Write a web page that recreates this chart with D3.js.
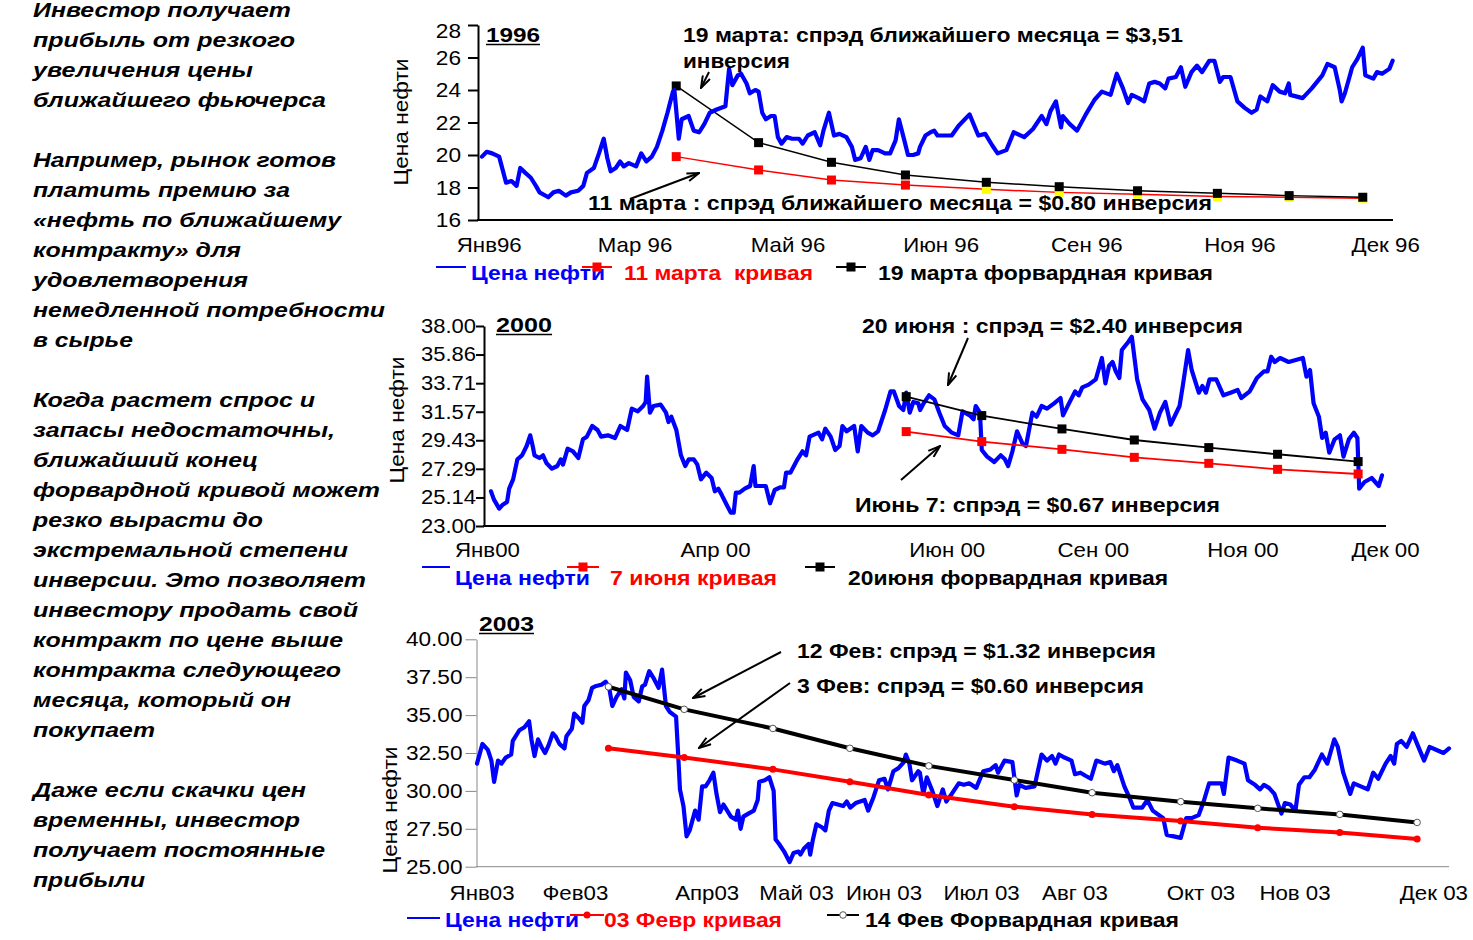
<!DOCTYPE html>
<html>
<head>
<meta charset="utf-8">
<script src="https://cdn.jsdelivr.net/npm/d3@7"></script>
<style>
  body { margin: 0; background: #fff; }
  svg { display: block; }
  text { font-family: "Liberation Sans", Arial, sans-serif; }
</style>
</head>
<body>
<svg id="chart" width="1473" height="940"></svg>
<script>
// ---- left commentary ----
var noteLines = [
  'Инвестор получает', 'прибыль от резкого', 'увеличения цены', 'ближайшего фьючерса', '',
  'Например, рынок готов', 'платить премию за', '«нефть по ближайшему', 'контракту» для',
  'удовлетворения', 'немедленной потребности', 'в сырье', '',
  'Когда растет спрос и', 'запасы недостаточны,', 'ближайший конец', 'форвардной кривой может',
  'резко вырасти до', 'экстремальной степени', 'инверсии. Это позволяет', 'инвестору продать свой',
  'контракт по цене выше', 'контракта следующего', 'месяца, который он', 'покупает', '',
  'Даже если скачки цен', 'временны, инвестор', 'получает постоянные', 'прибыли'
];
var noteWidths = [258, 262, 220, 293, 0, 303, 257, 308, 208, 215, 352, 100, 0,
  282, 302, 225, 347, 230, 315, 333, 325, 310, 308, 258, 122, 0, 273, 267, 292, 112];

// ---- 1996 ----  [trading day, price]
var price96 = [[0,19.9],[1.3,20.2],[2.8,20.1],[4.7,19.9],[6.6,18.3],[8.1,18.4],[9.5,18.1],[10.5,19.2],[11.9,18.9],[13.4,18.6],[14.8,18.1],[15.8,17.7],[18.2,17.4],[19.6,17.7],[21.1,17.8],[23,17.5],[24.4,17.7],[26.4,17.8],[27.8,18.1],[28.8,18.9],[30.7,19.2],[32.1,20.1],[33.4,21.0],[34.4,19.8],[35.3,19.0],[36.7,19.2],[37.9,19.6],[38.9,19.3],[40.3,19.5],[42.3,19.3],[43.7,20.1],[45.1,19.6],[46.6,19.9],[48,20.5],[49.5,21.5],[50.9,22.6],[52.4,23.9],[52.8,24.0],[54,21.0],[54.8,22.2],[56.7,22.4],[58.1,21.5],[59.6,21.4],[61,21.9],[62.5,22.6],[64.4,22.8],[66.8,23.0],[67.8,25.3],[68.7,24.3],[70.2,24.9],[71.1,25.0],[72.6,24.4],[73.5,23.8],[75,24.0],[75.9,23.9],[76.9,22.6],[77.9,22.2],[79.3,22.4],[80.3,22.4],[81.2,21.1],[82.2,20.7],[83.6,21.1],[85.1,21.0],[87,21.0],[88,20.7],[89.4,21.2],[91.3,21.4],[92.8,20.6],[93.7,21.5],[95.2,22.6],[96.6,21.2],[98.1,21.3],[100,21.1],[101.5,20.5],[102.4,19.7],[103.9,19.8],[105.3,20.5],[106.3,19.7],[107.2,20.3],[108.7,20.3],[110.6,20.1],[112,20.1],[113.5,20.9],[114.4,22.2],[115.9,20.9],[116.9,20.0],[118.3,20.0],[119.7,20.1],[120.2,20.5],[121.7,21.2],[123.1,21.4],[124.1,21.5],[125,21.2],[128.9,21.2],[130.8,21.8],[133.8,22.5],[136.2,21.2],[138.1,21.3],[140,20.6],[141.5,20.1],[143.9,20.3],[145.9,21.4],[148.8,21.1],[151.2,21.6],[153.6,22.4],[154.9,21.9],[156,22.7],[157.5,23.3],[158.9,21.7],[159.4,22.4],[161.3,21.9],[163.3,21.5],[165.7,22.5],[168.1,23.4],[170.1,23.9],[172.5,23.7],[174.2,25.0],[175.9,24.1],[177.3,23.2],[178.3,23.7],[180.2,23.5],[181.7,23.3],[183.1,24.4],[184.6,24.5],[186,24.4],[187.5,24.1],[188.4,24.7],[190.4,24.8],[191.8,25.4],[193,24.2],[194.7,25.1],[196.2,25.5],[197.6,25.1],[199.6,25.8],[201,25.8],[202.5,24.5],[203.4,24.8],[205.4,24.8],[207.3,23.3],[209.3,22.9],[211.2,22.6],[212.6,22.8],[213.6,23.6],[215.5,23.3],[217,24.3],[218.9,23.9],[220.4,23.8],[221.4,24.4],[221.8,23.7],[225.2,23.5],[227.7,24.1],[230.6,24.9],[232,25.6],[234,25.4],[235.4,24.0],[235.9,23.3],[236.8,23.8],[238.8,25.4],[240.2,25.9],[241.7,26.6],[242.4,24.9],[244.6,24.7],[245.6,25.1],[247,25.0],[249,25.3],[249.9,25.8]];
var fwdDays96 = [53.3, 75.9, 95.9, 116.2, 138.4, 158.4, 179.9, 201.8, 221.5, 241.7];
var curveMar19 = [24.25, 20.76, 19.55, 18.77, 18.32, 18.05, 17.80, 17.64, 17.50, 17.40];
var curveMar11 = [19.90, 19.08, 18.46, 18.15, 17.89, 17.70, 17.58, 17.44, 17.40, 17.34];
var ticks96 = [16, 18, 20, 22, 24, 26, 28];
var months96 = ['Янв96', 'Мар 96', 'Май 96', 'Июн 96', 'Сен 96', 'Ноя 96', 'Дек 96'];
var monthDays96 = [2, 42, 84, 126, 166, 208, 248];

// ---- 2000 ----
var price00 = [[0,25.6],[0.8,25.0],[2.3,24.3],[3.3,24.6],[4.5,24.8],[5.1,25.8],[6.2,26.5],[7.4,28.0],[8.7,28.3],[10,29.0],[11,29.8],[11.7,29.0],[12.2,28.3],[13.6,28.1],[14.6,28.3],[15.6,27.7],[17.1,27.3],[18.6,27.5],[19.6,28.0],[20.2,27.6],[21.5,28.8],[23,28.6],[24.5,28.1],[25.8,29.5],[26.9,29.7],[28.4,30.5],[29.9,30.2],[30.9,29.7],[32.8,29.8],[34.8,29.6],[36.3,30.5],[38.2,30.2],[39.5,31.8],[41.2,31.6],[42.7,32.0],[43.4,32.3],[43.8,34.2],[44.6,31.5],[45.6,32.0],[47.6,32.1],[49.1,31.5],[49.8,30.8],[50.6,31.2],[52,30.2],[53.3,28.3],[54.5,27.5],[55.5,28.0],[56.9,28.0],[57.9,27.6],[58.9,26.5],[60.4,27.0],[61.9,26.6],[62.8,25.6],[63.8,25.8],[64.8,25.3],[66.3,24.5],[67.3,24.0],[68.1,24.0],[68.7,25.5],[69.7,25.5],[71.2,25.8],[72.7,26.0],[73.7,27.5],[74.2,26.0],[75.6,26.0],[77.1,26.0],[78.3,24.7],[79.6,25.7],[81.1,25.9],[82.2,25.9],[82.8,27.0],[84,27.0],[86,28.0],[87.4,28.6],[88.4,28.3],[89.4,29.7],[91.9,30.0],[92.9,29.5],[93.8,30.3],[95.3,29.7],[96.6,28.7],[97.8,29.0],[98.6,30.5],[99.8,30.1],[101.9,30.5],[102.9,28.6],[103.9,30.5],[105.7,30.0],[107.1,29.8],[108.6,30.1],[110.6,31.7],[112.1,33.1],[113,33.1],[114.5,32.0],[115.7,31.7],[116.5,33.0],[117.5,31.5],[118.5,32.3],[119.9,32.2],[120.4,31.7],[121.4,32.2],[122.9,32.8],[124.4,32.5],[125.8,31.5],[127.3,30.5],[129.3,30.0],[131.1,29.8],[132.3,31.6],[134.3,31.3],[135.4,31.0],[136,32.0],[137.2,31.5],[137.7,28.7],[139.2,28.2],[141.2,27.8],[143,28.3],[144.2,28.0],[145.1,27.5],[146.3,28.6],[147.6,30.1],[149.1,29.2],[150.1,29.0],[151.9,31.5],[153.1,31.2],[154.5,32.0],[156,31.8],[158,32.2],[159.8,32.6],[160.5,31.3],[162,32.1],[163.9,33.1],[164.9,32.8],[165.9,33.4],[167.7,33.6],[169.7,34.0],[171.4,35.6],[172.4,33.7],[173.4,35.0],[174.4,35.3],[175.3,34.6],[176.3,34.1],[177,36.2],[178.8,36.8],[179.8,37.2],[180.6,35.5],[181.3,34.0],[182.8,32.5],[184.7,31.7],[186.2,30.3],[187.7,31.5],[189.2,32.3],[190.7,30.6],[193.2,32.0],[194.1,33.5],[195.6,36.2],[196.6,34.7],[198.6,33.0],[199.6,33.5],[200.6,33.0],[201.6,34.0],[203.5,34.0],[205.5,32.8],[207.5,33.0],[209.5,33.2],[210.5,32.6],[212.9,33.1],[214.9,34.1],[216.9,34.6],[217.9,34.6],[218.9,35.7],[219.9,35.3],[221.4,35.6],[223.8,35.3],[227.8,35.6],[228.8,34.2],[229.8,34.7],[230.8,32.2],[232.3,31.2],[233.2,29.6],[234.2,30.0],[235.2,28.5],[236.7,29.5],[238.2,29.8],[239.2,28.2],[240.7,29.5],[242.1,30.0],[243.1,29.6],[243.6,25.8],[245.1,26.3],[247.1,26.6],[249.1,26.0],[250,26.8]];
var fwdDays00 = [116.5, 137.7, 160.2, 180.5, 201.4, 220.7, 243.3];
var curveJun20 = [32.70, 31.28, 30.28, 29.45, 28.88, 28.38, 27.83];
var curveJun7 = [30.08, 29.33, 28.75, 28.15, 27.70, 27.25, 26.90];
var ticks00 = [23.00, 25.14, 27.29, 29.43, 31.57, 33.71, 35.86, 38.00];
var months00 = ['Янв00', 'Апр 00', 'Июн 00', 'Сен 00', 'Ноя 00', 'Дек 00'];
var monthDays00 = [-1, 63, 128, 169, 211, 251];

// ---- 2003 ----
var price03 = [[0,31.8],[1.4,33.1],[2.8,32.7],[3.7,32.0],[4.4,30.6],[5.4,32.0],[6.3,31.8],[7.4,32.2],[8.8,32.4],[9.2,33.3],[10.9,34.0],[12.2,34.2],[13.4,34.6],[14,33.4],[14.8,32.3],[15.7,33.4],[16.6,32.9],[17.5,32.5],[18.4,33.0],[19.5,33.8],[20.2,33.6],[21.2,33.1],[22.5,32.8],[23,33.6],[24.4,34.1],[25,35.1],[26.2,34.8],[27.1,34.5],[27.6,35.6],[28.7,36.0],[29.6,36.8],[30.4,36.9],[32,37.0],[33.1,37.2],[34,36.8],[34.8,35.6],[35.9,36.2],[37.2,36.7],[37.9,36.1],[38.3,37.8],[39.4,37.3],[40.3,36.2],[41.6,35.9],[42.5,36.9],[43.2,37.0],[44.3,37.9],[45.5,37.4],[46.7,36.8],[47.6,38.0],[48.6,35.6],[49.6,35.2],[51.2,34.9],[51.7,32.6],[52.2,30.1],[53.1,29.0],[53.9,27.0],[54.7,27.4],[56.1,28.7],[57,28.1],[57.9,30.3],[58.8,30.3],[59.8,30.7],[60.8,31.2],[61.6,29.8],[62.5,28.6],[63.4,29.1],[65.3,28.3],[66.6,28.1],[67.1,28.7],[67.8,27.5],[68.5,28.3],[69.8,28.5],[71.2,28.7],[72.2,29.4],[72.6,30.6],[74,30.7],[75.2,30.9],[76.3,30.0],[76.8,26.8],[77.7,26.5],[79,26.0],[80.4,25.3],[81.4,25.9],[82.7,26.0],[83.2,25.8],[84.1,26.2],[85.3,26.5],[85.7,25.8],[86.4,26.8],[87.3,27.8],[88.7,27.6],[89.6,27.4],[90.5,28.7],[91.4,29.2],[92.8,29.1],[94.2,29.0],[95.1,29.3],[96,28.9],[97.4,29.2],[99.7,29.4],[100.6,28.7],[102,29.6],[103.4,30.7],[104.8,30.8],[105.7,30.1],[107.1,31.3],[108.4,31.5],[109.8,31.9],[110.3,32.4],[111.2,31.8],[111.9,30.7],[113.5,31.3],[113.9,31.2],[114.8,29.8],[115.7,30.9],[117.1,30.0],[118.4,29.0],[119.8,30.1],[120.7,29.3],[122.1,29.8],[123.9,30.5],[125.2,30.4],[126.6,30.5],[128.4,30.2],[130.2,31.3],[132,31.4],[133.4,31.7],[134,31.2],[135.7,32.0],[137.7,31.9],[138.8,29.7],[139.5,30.4],[141.1,30.2],[143.4,30.3],[145.2,32.4],[146.6,32.0],[147.9,32.3],[148.8,31.8],[149.7,32.4],[151.1,32.2],[152.9,32.0],[153.8,31.1],[155.2,31.2],[156.5,31.0],[157.9,30.8],[159.3,32.0],[161.5,31.8],[162.9,31.9],[163.8,31.3],[164.7,31.7],[166.5,30.3],[167.9,29.5],[168.8,28.9],[171.1,28.9],[172.4,29.4],[173.8,28.7],[176.5,28.2],[177.4,27.1],[179.2,27.0],[181,26.9],[182.4,28.2],[183.8,28.2],[185.6,28.4],[186.9,29.3],[188.3,30.5],[191.5,30.5],[192.1,29.8],[193.3,32.2],[195.5,32.0],[197.4,31.8],[198.3,30.7],[200.1,30.4],[201.4,30.1],[202.4,30.4],[203.7,30.2],[205.1,29.8],[206.9,28.5],[207.8,29.2],[209.2,29.1],[210.5,28.7],[211.4,30.4],[212.8,30.9],[214.1,30.9],[215.5,31.4],[217.3,32.4],[218.7,31.8],[220.5,33.4],[221.4,32.9],[222.8,31.2],[224.6,29.8],[225.5,30.5],[227.3,30.3],[229.1,30.1],[230.5,31.2],[231.8,30.8],[233.7,31.8],[235,32.3],[235.9,31.8],[236.6,33.1],[237.7,33.3],[239.1,32.9],[240.7,33.8],[241.8,33.1],[243.6,32.0],[245,32.9],[246.8,32.7],[248.6,32.5],[250,32.8]];
var fwdDays03 = [33.8, 53.3, 76.1, 95.9, 116.2, 138.2, 158.2, 181.0, 200.8, 221.9, 241.8];
var curveFeb14 = [36.87, 35.38, 34.12, 32.81, 31.65, 30.72, 29.88, 29.29, 28.85, 28.45, 27.92];
var curveFeb3 = [32.81, 32.21, 31.42, 30.61, 29.73, 28.96, 28.45, 28.01, 27.57, 27.26, 26.82];
var ticks03 = [25, 27.5, 30, 32.5, 35, 37.5, 40];
var months03 = ['Янв03', 'Фев03', 'Апр03', 'Май 03', 'Июн 03', 'Июл 03', 'Авг 03', 'Окт 03', 'Нов 03', 'Дек 03'];
var monthDays03 = [1.3, 25.3, 59.2, 82.2, 104.7, 129.8, 153.8, 186.2, 210.4, 246.1];

var BLUE = '#0000ff', RED = '#ff0000';
var svg = d3.select('#chart');

// stretch text horizontally to a given width
function fit(t, w) {
  return t.attr('textLength', w).attr('lengthAdjust', 'spacingAndGlyphs');
}
function widen(t, k) {
  t.each(function() {
    var el = d3.select(this);
    fit(el, this.getComputedTextLength() * k);
  });
  return t;
}

// open chevron arrowhead
svg.append('defs').append('marker')
  .attr('id', 'arrow').attr('viewBox', '0 0 14 10')
  .attr('refX', 13).attr('refY', 5)
  .attr('markerWidth', 14).attr('markerHeight', 10)
  .attr('markerUnits', 'userSpaceOnUse').attr('orient', 'auto')
  .append('path').attr('d', 'M1,1 L13,5 L1,9').attr('fill', 'none')
  .attr('stroke', '#000').attr('stroke-width', 2);

// left notes
var notes = svg.append('g');
noteLines.forEach(function(s, i) {
  if (!s) return;
  var t = notes.append('text').attr('x', 33).attr('y', 17 + i * 30)
    .attr('font-size', 20).attr('font-weight', 'bold').attr('font-style', 'italic')
    .text(s);
  fit(t, noteWidths[i]);
});

function drawPanel(c) {
  var g = svg.append('g');
  var x = d3.scaleLinear().domain([0, 250]).range(c.xr);
  var y = d3.scaleLinear().domain(c.yd).range(c.yr);

  // axes
  var ya = g.append('g').attr('transform', 'translate(' + c.axisX + ',0)')
    .call(d3.axisLeft(y).tickValues(c.ticks).tickSize(c.tickLen).tickSizeOuter(0)
      .tickPadding(c.tickPad).tickFormat(c.fmt));
  ya.attr('font-size', c.tickFont).attr('font-family', null);
  ya.selectAll('.domain, line').attr('stroke', c.axisColor).attr('stroke-width', c.axisW);
  ya.selectAll('text').attr('fill', '#000');
  if (c.topLabelDrop) {
    ya.selectAll('.tick').filter(function(d) { return d === c.yd[1]; })
      .select('text').attr('y', c.topLabelDrop);
  }
  widen(ya.selectAll('text'), c.tickStretch);

  g.append('line').attr('x1', c.axisX - c.axisW / 2).attr('x2', c.xEnd)
    .attr('y1', y(c.yd[0])).attr('y2', y(c.yd[0]))
    .attr('stroke', c.axisColor).attr('stroke-width', c.axisW);

  var ml = g.selectAll('text.month').data(c.months).enter().append('text')
    .attr('class', 'month')
    .attr('x', function(d, i) { return x(c.monthDays[i]); })
    .attr('y', c.monthY).attr('text-anchor', 'middle').attr('font-size', 21)
    .text(function(d) { return d; });
  widen(ml, 1.06);

  // y label
  fit(g.append('text').attr('transform', 'translate(' + c.ylab[0] + ',' + c.ylab[1] + ') rotate(-90)')
    .attr('text-anchor', 'middle').attr('font-size', 20).text('Цена нефти'), 127);

  // title
  var tt = g.append('text').attr('x', c.title[0]).attr('y', c.title[1])
    .attr('font-size', 21).attr('font-weight', 'bold').text(c.titleText);
  fit(tt, c.title[2]);
  g.append('line').attr('x1', c.title[0]).attr('x2', c.title[0] + c.title[2])
    .attr('y1', c.title[1] + 2.5).attr('y2', c.title[1] + 2.5)
    .attr('stroke', '#000').attr('stroke-width', 1.6);

  var line = d3.line().x(function(d) { return x(d[0]); }).y(function(d) { return y(d[1]); });
  function drawPrice() {
    g.append('path').datum(c.price).attr('d', line).attr('fill', 'none')
      .attr('stroke', BLUE).attr('stroke-width', 4.2)
      .attr('stroke-linejoin', 'round').attr('stroke-linecap', 'round');
  }
  if (!c.priceOnTop) drawPrice();

  c.curves.forEach(function(cv) {
    var pts = c.fwdDays.map(function(d, i) { return [d, cv.vals[i]]; });
    g.append('path').datum(pts).attr('d', line).attr('fill', 'none')
      .attr('stroke', cv.color).attr('stroke-width', cv.width);
    if (cv.marker === 'square') {
      g.selectAll(null).data(pts).enter().append('rect')
        .attr('x', function(d) { return x(d[0]) - 4.5; })
        .attr('y', function(d) { return y(d[1]) - 4.5; })
        .attr('width', 9).attr('height', 9)
        .attr('fill', function(d, i) { return cv.fillAfter && i >= cv.fillAfter[0] ? cv.fillAfter[1] : cv.color; });
    } else if (cv.marker === 'dot') {
      g.selectAll(null).data(pts).enter().append('circle')
        .attr('cx', function(d) { return x(d[0]); }).attr('cy', function(d) { return y(d[1]); })
        .attr('r', 3.5).attr('fill', cv.color);
    } else if (cv.marker === 'ring') {
      g.selectAll(null).data(pts).enter().append('circle')
        .attr('cx', function(d) { return x(d[0]); }).attr('cy', function(d) { return y(d[1]); })
        .attr('r', 3.3).attr('fill', '#fff').attr('stroke', '#555').attr('stroke-width', 1);
    }
  });
  if (c.priceOnTop) drawPrice();

  // annotations
  c.notes.forEach(function(n) {
    fit(g.append('text').attr('x', n[1]).attr('y', n[2]).attr('font-size', 20)
      .attr('font-weight', 'bold').text(n[0]), n[3]);
  });
  c.arrows.forEach(function(a) {
    g.append('line').attr('x1', a[0]).attr('y1', a[1]).attr('x2', a[2]).attr('y2', a[3])
      .attr('stroke', '#000').attr('stroke-width', 2).attr('marker-end', 'url(#arrow)');
  });

  // legend
  c.legend.forEach(function(L) {
    g.append('line').attr('x1', L.seg[0]).attr('x2', L.seg[1]).attr('y1', L.segY).attr('y2', L.segY)
      .attr('stroke', L.color).attr('stroke-width', 2);
    var mx = (L.seg[0] + L.seg[1]) / 2;
    if (L.marker === 'square') {
      g.append('rect').attr('x', mx - 4.5).attr('y', L.segY - 4.5).attr('width', 9).attr('height', 9).attr('fill', L.color);
    } else if (L.marker === 'dot') {
      g.append('circle').attr('cx', mx).attr('cy', L.segY).attr('r', 3.5).attr('fill', L.color);
    } else if (L.marker === 'ring') {
      g.append('circle').attr('cx', mx).attr('cy', L.segY).attr('r', 3.3).attr('fill', '#fff').attr('stroke', '#555');
    }
    fit(g.append('text').attr('x', L.tx).attr('y', c.legendY).attr('font-size', 20)
      .attr('font-weight', 'bold').attr('fill', L.color).style('white-space', 'pre').text(L.text), L.tw);
  });
}

var f0 = d3.format('d'), f2 = d3.format('.2f');

drawPanel({
  xr: [482, 1393], xEnd: 1393, axisX: 478, yd: [16, 28], yr: [220, 25],
  ticks: ticks96, fmt: f0, tickLen: 10, tickPad: 7, tickFont: 21, tickStretch: 1.08,
  axisColor: '#000', axisW: 2, topLabelDrop: 6,
  months: months96, monthDays: monthDays96, monthY: 252,
  ylab: [408, 122], title: [486, 42, 54], titleText: '1996',
  price: price96, priceOnTop: true, fwdDays: fwdDays96,
  curves: [
    { vals: curveMar11, color: RED, width: 1.5, marker: 'square', fillAfter: [4, '#ffff00'] },
    { vals: curveMar19, color: '#000', width: 1.5, marker: 'square' }
  ],
  notes: [
    ['19 марта: спрэд ближайшего месяца = $3,51', 683, 42, 500],
    ['инверсия', 683, 68, 107],
    ['11 марта : спрэд ближайшего месяца = $0.80 инверсия', 588, 210, 624]
  ],
  arrows: [[709, 72, 701, 88], [630, 199, 699, 173]],
  legendY: 280,
  legend: [
    { seg: [436, 466], segY: 267, color: BLUE, marker: null, tx: 471, tw: 134, text: 'Цена нефти' },
    { seg: [582, 612], segY: 267, color: RED, marker: 'square', tx: 624, tw: 189, text: '11 марта  кривая' },
    { seg: [836, 866], segY: 267, color: '#000', marker: 'square', tx: 878, tw: 335, text: '19 марта форвардная кривая' }
  ]
});

drawPanel({
  xr: [491, 1382], xEnd: 1386, axisX: 484, yd: [23, 38], yr: [526, 326],
  ticks: ticks00, fmt: f2, tickLen: 8, tickPad: 0, tickFont: 20, tickStretch: 1.1,
  axisColor: '#000', axisW: 2,
  months: months00, monthDays: monthDays00, monthY: 557,
  ylab: [404, 420], title: [496, 332, 56], titleText: '2000',
  price: price00, priceOnTop: false, fwdDays: fwdDays00,
  curves: [
    { vals: curveJun7, color: RED, width: 1.8, marker: 'square' },
    { vals: curveJun20, color: '#000', width: 1.8, marker: 'square' }
  ],
  notes: [
    ['20 июня : спрэд = $2.40 инверсия', 862, 333, 381],
    ['Июнь 7: спрэд = $0.67 инверсия', 855, 512, 365]
  ],
  arrows: [[968, 338, 948, 385], [901, 480, 940, 446]],
  legendY: 585,
  legend: [
    { seg: [422, 450], segY: 567, color: BLUE, marker: null, tx: 455, tw: 135, text: 'Цена нефти' },
    { seg: [567, 599], segY: 567, color: RED, marker: 'square', tx: 610, tw: 167, text: '7 июня кривая' },
    { seg: [805, 835], segY: 567, color: '#000', marker: 'square', tx: 848, tw: 320, text: '20июня форвардная кривая' }
  ]
});

drawPanel({
  xr: [477, 1449], xEnd: 1449, axisX: 476.5, yd: [25, 40], yr: [866.7, 639.3],
  ticks: ticks03, fmt: f2, tickLen: 11, tickPad: 3, tickFont: 20, tickStretch: 1.13,
  axisColor: '#888', axisW: 1,
  months: months03, monthDays: monthDays03, monthY: 900,
  ylab: [397, 810], title: [479, 631, 55], titleText: '2003',
  price: price03, priceOnTop: false, fwdDays: fwdDays03,
  curves: [
    { vals: curveFeb3, color: RED, width: 4, marker: 'dot' },
    { vals: curveFeb14, color: '#000', width: 4, marker: 'ring' }
  ],
  notes: [
    ['12 Фев: спрэд = $1.32 инверсия', 797, 658, 359],
    ['3 Фев: спрэд = $0.60 инверсия', 797, 693, 347]
  ],
  arrows: [[781, 652, 693, 698], [790, 683, 699, 748]],
  legendY: 927,
  legend: [
    { seg: [407, 440], segY: 918, color: BLUE, marker: null, tx: 445, tw: 134, text: 'Цена нефти' },
    { seg: [570, 604], segY: 915, color: RED, marker: 'dot', tx: 604, tw: 178, text: '03 Февр кривая' },
    { seg: [827, 859], segY: 915, color: '#000', marker: 'ring', tx: 865, tw: 314, text: '14 Фев Форвардная кривая' }
  ]
});
</script>
</body>
</html>
